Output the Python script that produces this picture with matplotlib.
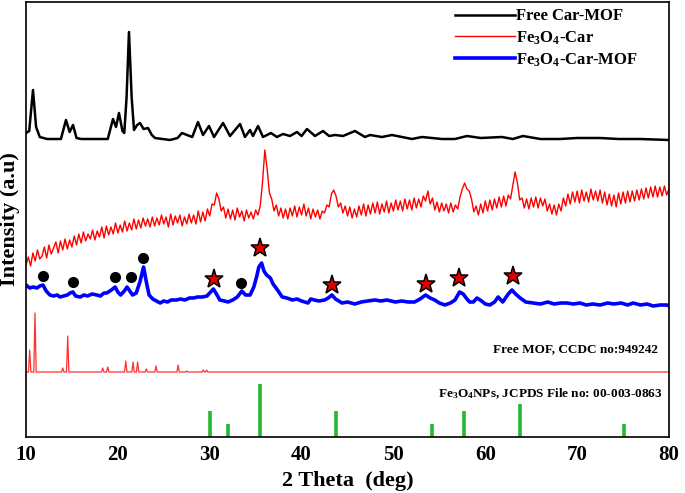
import numpy as np
import matplotlib
matplotlib.use("Agg")
import matplotlib.pyplot as plt

# ---------------- data ----------------
# Free Car-MOF (black)
black_x = [10.0, 10.35, 10.76, 11.1, 11.5, 12.3, 13.8, 14.35, 14.75, 15.12, 15.5, 16.0, 18.9, 19.47, 19.8,
           20.12, 20.5, 20.7, 20.95, 21.21, 21.5, 21.76, 22.1, 22.41, 22.8, 23.28, 23.7, 24.04, 25.68, 26.5,
           26.98, 27.53, 28.1, 28.72, 29.27, 29.92, 30.47, 31.45, 32.21, 33.30, 33.84, 34.39, 34.71, 35.26,
           35.80, 36.67, 37.32, 37.98, 38.74, 39.50, 40.0, 40.59, 41.46, 42.33, 43.0, 43.64, 44.51, 45.81,
           46.90, 47.45, 48.75, 49.84, 50.93, 52.02, 53.11, 54.20, 55.29, 56.70, 58.01, 59.5, 61.82, 63.0,
           64.10, 66.0, 68.13, 70.0, 72.49, 74.5, 76.84, 80.0]
black_y = [304, 306, 347, 310, 300, 298, 298, 317, 305, 312, 299, 298, 298, 318, 310,
           324, 306, 304, 340, 405, 340, 307, 312, 314, 308, 309, 302, 299, 297, 299,
           304, 302, 300, 315, 302, 311, 300, 314, 301, 313, 300, 307, 301, 311,
           300, 304, 300, 303, 301, 305, 301, 308, 301, 306, 301, 302, 301, 306,
           300, 302, 300, 302, 300, 298, 300, 299, 298, 298, 301, 299, 300, 298,
           301, 298, 298, 299, 299, 298, 298, 297]

# Fe3O4-Car (red), sampled every 0.25 deg from 10 to 80
red_start, red_step = 10.0, 0.25
red_y = [
    172, 180, 171, 184, 176, 187, 178, 181, 190, 179, 192, 183, 189, 195, 184, 196, 187, 198, 188, 197,
    190, 201, 192, 203, 194, 205, 196, 203, 198, 207, 197, 206, 200, 210, 199, 211, 202, 210, 203, 214,
    204, 212, 205, 216, 206, 214, 207, 218, 208, 217, 209, 219, 211, 218, 210, 220, 211, 219, 212, 222,
    213, 220, 210, 223, 212, 221, 214, 222, 211, 220, 213, 223, 214, 222, 213, 226, 215, 225, 216, 228,
    221, 233, 232, 244, 238, 226, 230, 219, 228, 218, 227, 217, 229, 220, 226, 216, 227, 219, 225, 218,
    227, 222, 231, 255, 287, 268, 244, 238, 226, 232, 221, 229, 219, 228, 218, 229, 221, 231, 220, 230,
    222, 233, 221, 229, 218, 228, 220, 227, 218, 226, 224, 232, 230, 243, 247, 241, 230, 234, 224, 231,
    221, 230, 219, 228, 220, 231, 222, 233, 221, 232, 223, 234, 224, 235, 223, 233, 225, 236, 224, 234,
    226, 237, 227, 236, 226, 238, 228, 237, 227, 239, 229, 238, 230, 241, 236, 246, 233, 239, 227, 235,
    225, 234, 226, 233, 224, 234, 225, 232, 228, 240, 248, 254, 248, 246, 238, 225, 231, 222, 233, 224,
    236, 226, 237, 227, 238, 229, 240, 230, 241, 231, 242, 238, 252, 265, 254, 237, 239, 229, 238, 228,
    239, 230, 240, 229, 239, 231, 238, 226, 233, 223, 232, 222, 233, 226, 239, 231, 243, 233, 245, 235,
    246, 234, 247, 236, 245, 235, 248, 237, 246, 236, 247, 234, 245, 232, 243, 231, 242, 230, 244, 233,
    245, 234, 246, 235, 246, 236, 247, 237, 248, 238, 249, 239, 250, 240, 251, 240, 250, 241, 251, 242,
    248]

# Fe3O4-Car-MOF (blue)
blue_x = [10.0, 10.4, 10.8, 11.2, 11.5, 11.85, 12.2, 12.6, 13.0, 13.4, 13.7, 14.1, 14.5, 14.8, 15.1, 15.4,
          15.9, 16.3, 16.7, 17.2, 17.7, 18.1, 18.5, 18.8, 19.3, 19.7, 20.0, 20.3, 20.7, 21.0, 21.3, 21.6,
          22.0, 22.4, 22.8, 23.1, 23.4, 23.8, 24.2, 24.6, 25.0, 25.4, 25.8, 26.4, 26.8, 27.3, 27.8, 28.2,
          28.7, 29.2, 29.7, 30.1, 30.4, 30.8, 31.1, 31.6, 32.0, 32.5, 33.0, 33.5, 33.9, 34.4, 34.8, 35.1,
          35.35, 35.65, 35.9, 36.2, 36.6, 36.9, 37.3, 37.9, 38.4, 39.0, 39.5, 40.0, 40.7, 41.0, 41.4, 41.9,
          42.5, 42.9, 43.3, 43.7, 44.4, 45.0, 45.8, 46.5, 47.2, 48.0, 48.6, 49.3, 50.2, 50.9, 51.6, 52.3,
          52.9, 53.5, 54.0, 54.5, 55.0, 55.6, 56.2, 56.7, 57.2, 57.6, 58.0, 58.3, 58.7, 59.1, 59.6, 60.0,
          60.5, 61.0, 61.4, 61.9, 62.5, 62.9, 63.3, 63.8, 64.4, 65.2, 66.0, 66.8, 67.5, 68.2, 68.9, 69.6,
          70.3, 71.0, 71.7, 72.5, 73.3, 74.0, 74.8, 75.5, 76.1, 76.9, 77.6, 78.3, 79.0, 79.8, 80.0]
blue_y = [152, 149, 150, 149, 151, 152, 146, 142, 141, 142, 140, 141, 142, 144, 145, 141,
          140, 142, 141, 143, 142, 141, 144, 144, 147, 150, 145, 142, 146, 150, 146, 142,
          144, 155, 170, 155, 142, 138, 136, 134, 136, 135, 137, 137, 138, 137, 139, 139,
          140, 140, 141, 145, 148, 142, 137, 136, 135, 137, 140, 146, 142, 142, 150, 160,
          170, 174, 166, 162, 159, 153, 148, 140, 139, 137, 138, 136, 134, 138, 137, 136,
          137, 139, 142, 138, 134, 135, 133, 135, 136, 137, 136, 137, 135, 136, 135, 135,
          138, 142, 139, 137, 134, 132, 134, 137, 145, 143, 138, 135, 135, 139, 136, 133,
          132, 135, 140, 135, 143, 147, 143, 139, 135, 134, 133, 135, 133, 134, 134, 133,
          134, 132, 133, 132, 134, 133, 134, 132, 134, 132, 133, 131, 132, 132, 131]

# Markers on blue pattern
dot_x = [11.85, 15.1, 19.7, 21.4, 22.7, 33.4]
dot_y = [161, 155, 160, 160, 179, 154]
star_x = [30.5, 35.5, 43.3, 53.5, 57.1, 63.0]
star_y = [158, 189, 152, 153, 159, 161]

# Simulated Free MOF pattern (thin red)
mof_base = 65
mof_pk_x = [10.4, 10.98, 14.0, 14.54, 18.35, 18.9, 20.86, 21.65, 22.15, 23.1, 24.15, 26.56, 27.5, 29.3, 29.66]
mof_pk_y = [87, 124, 69, 101, 69, 70, 76, 75, 75, 68, 71, 72, 66, 67, 67]

# Fe3O4 reference sticks (green)
fe_x = [29.98, 32.0, 35.47, 43.8, 54.2, 57.66, 63.74, 75.05]
fe_h = [26, 13, 53, 26, 13, 26, 33, 13]

# ---------------- plot ----------------
serif = ["Liberation Serif", "DejaVu Serif"]
plt.rcParams["font.family"] = serif
plt.rcParams["font.weight"] = "bold"
plt.rcParams["mathtext.fontset"] = "custom"
plt.rcParams["mathtext.rm"] = "Liberation Serif:bold"
plt.rcParams["mathtext.it"] = "Liberation Serif:bold"
plt.rcParams["mathtext.bf"] = "Liberation Serif:bold"

fig = plt.figure(figsize=(6.85, 4.93), dpi=100)
ax = fig.add_axes([26 / 685, 56 / 493, 643 / 685, 435 / 493])

ax.plot(black_x, black_y, color="black", lw=1.8, label="Free Car-MOF")
red_x = red_start + red_step * np.arange(len(red_y))
ax.plot(red_x, red_y, color="#ff0000", lw=1.0, label="Fe$_3$O$_4$-Car")
ax.plot(blue_x, blue_y, color="#0000ff", lw=2.6, label="Fe$_3$O$_4$-Car-MOF")

ax.plot(dot_x, dot_y, "o", color="black", ms=7, ls="none")
ax.plot(star_x, star_y, "*", mfc="#e00000", mec="black", mew=1.1, ms=14, ls="none")

# simulated MOF line
sx, sy = [10.0], [mof_base]
for px, py in zip(mof_pk_x, mof_pk_y):
    sx += [px - 0.13, px, px + 0.13]
    sy += [mof_base, py, mof_base]
sx.append(80.0)
sy.append(mof_base)
ax.plot(sx, sy, color="#ff3030", lw=0.9)

# Fe3O4 sticks
ax.vlines(fe_x, 0, fe_h, color="#22b833", lw=2.6)

ax.text(78.8, 82, "Free MOF, CCDC no:949242", ha="right", va="bottom", fontsize=9.5,
        fontweight="bold")
ax.text(79.3, 36, "Fe$_3$O$_4$NPs, JCPDS File no: 00-003-0863", ha="right", va="bottom",
        fontsize=9.5, fontweight="bold")

ax.set_xlim(10, 80)
ax.set_ylim(0, 435)
ax.set_xticks([10, 20, 30, 40, 50, 60, 70, 80])
ax.set_yticks([])
ax.tick_params(axis="x", length=0, pad=6, labelsize=15)
for lab in ax.get_xticklabels():
    lab.set_fontweight("bold")
ax.set_xlabel("2 Theta  (deg)", fontsize=16, fontweight="bold", labelpad=4)
ax.set_ylabel("Intensity (a.u)", fontsize=16, fontweight="bold", labelpad=4)
for s in ax.spines.values():
    s.set_linewidth(1.2)

leg = ax.legend(loc="upper right", bbox_to_anchor=(0.97, 1.012), frameon=False,
                handlelength=3.6, handletextpad=0.05, labelspacing=0.28, borderaxespad=0.3,
                prop={"family": serif, "weight": "bold", "size": 12})

fig.savefig("out.png", dpi=100)
